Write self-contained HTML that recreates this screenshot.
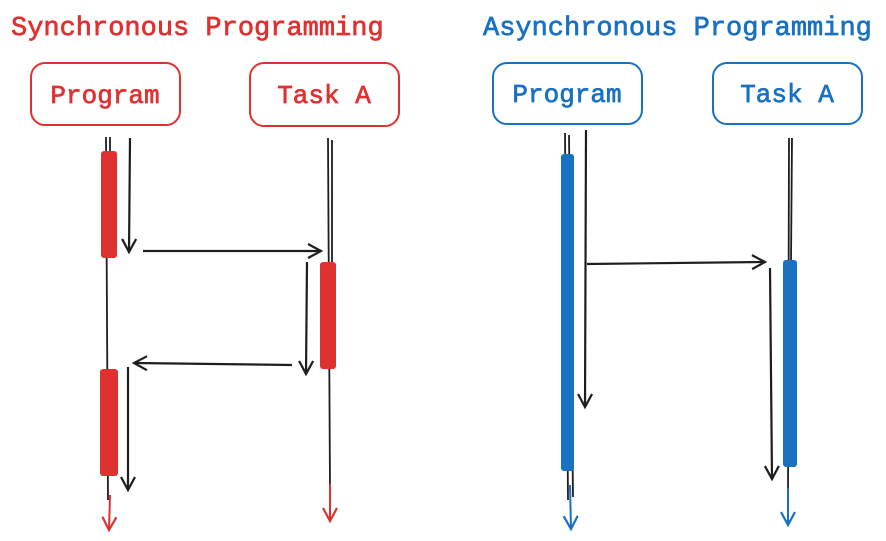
<!DOCTYPE html>
<html><head><meta charset="utf-8"><style>
html,body{margin:0;padding:0;background:#fff;}
svg{display:block;}
text{font-family:"Liberation Mono",monospace;stroke-width:0.7;}
</style></head><body>
<svg width="886" height="541" viewBox="0 0 886 541" xmlns="http://www.w3.org/2000/svg">
<defs>
<marker id="ak" markerWidth="20" markerHeight="20" refX="14" refY="8" orient="auto" markerUnits="userSpaceOnUse"><path d="M1,1 L14,8 L1,15" fill="none" stroke="#1e1e1e" stroke-width="2.2"/></marker>
<marker id="ar" markerWidth="20" markerHeight="20" refX="14" refY="8" orient="auto" markerUnits="userSpaceOnUse"><path d="M1,1 L14,8 L1,15" fill="none" stroke="#e03131" stroke-width="2.2"/></marker>
<marker id="ab" markerWidth="20" markerHeight="20" refX="14" refY="8" orient="auto" markerUnits="userSpaceOnUse"><path d="M1,1 L14,8 L1,15" fill="none" stroke="#1971c2" stroke-width="2.2"/></marker>
</defs>
<!-- Sync -->
<text x="11" y="35" font-size="27" fill="#e03131" stroke="#e03131">Synchronous Programming</text>
<rect x="31" y="63" width="149" height="62" rx="14" fill="none" stroke="#e03131" stroke-width="2"/>
<text x="105" y="103" font-size="26" fill="#e03131" stroke="#e03131" text-anchor="middle">Program</text>
<rect x="250" y="63" width="149" height="63" rx="14" fill="none" stroke="#e03131" stroke-width="2"/>
<text x="324" y="103" font-size="26" fill="#e03131" stroke="#e03131" text-anchor="middle">Task A</text>
<g stroke="#1e1e1e" stroke-width="1.8" fill="none">
<line x1="106" y1="137" x2="108" y2="500"/><line x1="110" y1="137" x2="110" y2="155"/>
<line x1="328" y1="138" x2="330" y2="490"/><line x1="332" y1="140" x2="332" y2="265"/>
</g>
<g stroke="#1e1e1e" stroke-width="2.2" fill="none">
<line x1="130" y1="138" x2="129" y2="252" marker-end="url(#ak)"/>
<line x1="143" y1="251" x2="321" y2="251" marker-end="url(#ak)"/>
<line x1="307" y1="262" x2="306" y2="374" marker-end="url(#ak)"/>
<line x1="292" y1="365" x2="134" y2="363" marker-end="url(#ak)"/>
<line x1="128" y1="367" x2="128" y2="490" marker-end="url(#ak)"/>
</g>
<rect x="101" y="151" width="16" height="107" rx="3" fill="#e03131"/>
<rect x="320" y="262" width="16" height="107" rx="3" fill="#e03131"/>
<rect x="100" y="369" width="18" height="107" rx="3" fill="#e03131"/>
<line x1="110" y1="495" x2="109" y2="530" stroke="#e03131" stroke-width="2" marker-end="url(#ar)"/>
<line x1="330" y1="484" x2="330" y2="521" stroke="#e03131" stroke-width="2" marker-end="url(#ar)"/>
<!-- Async -->
<text x="483" y="35" font-size="27" fill="#1971c2" stroke="#1971c2">Asynchronous Programming</text>
<rect x="493" y="63" width="149" height="61" rx="14" fill="none" stroke="#1971c2" stroke-width="2"/>
<text x="567" y="102" font-size="26" fill="#1971c2" stroke="#1971c2" text-anchor="middle">Program</text>
<rect x="713" y="63" width="149" height="61" rx="14" fill="none" stroke="#1971c2" stroke-width="2"/>
<text x="787" y="102" font-size="26" fill="#1971c2" stroke="#1971c2" text-anchor="middle">Task A</text>
<g stroke="#1e1e1e" stroke-width="1.8" fill="none">
<line x1="565" y1="133" x2="568" y2="500"/><line x1="569" y1="135" x2="573" y2="497"/>
<line x1="789" y1="138" x2="788" y2="500"/><line x1="792" y1="138" x2="791" y2="262"/>
</g>
<g stroke="#1e1e1e" stroke-width="2.2" fill="none">
<line x1="586" y1="130" x2="585" y2="407" marker-end="url(#ak)"/>
<line x1="587" y1="264" x2="765" y2="262" marker-end="url(#ak)"/>
<line x1="770" y1="268" x2="772" y2="479" marker-end="url(#ak)"/>
</g>
<rect x="561" y="154" width="13" height="317" rx="3" fill="#1971c2"/>
<rect x="783" y="260" width="14" height="207" rx="3" fill="#1971c2"/>
<line x1="570" y1="485" x2="571" y2="529" stroke="#1971c2" stroke-width="2" marker-end="url(#ab)"/>
<line x1="788" y1="488" x2="788" y2="525" stroke="#1971c2" stroke-width="2" marker-end="url(#ab)"/>
</svg>
</body></html>
